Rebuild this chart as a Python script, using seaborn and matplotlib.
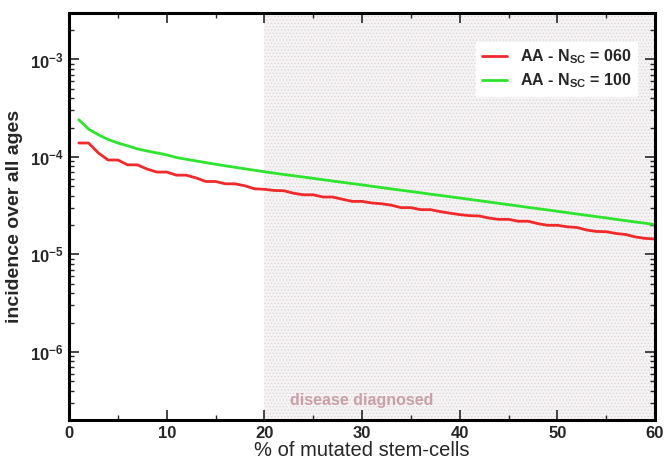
import numpy as np
import pandas as pd
import matplotlib
matplotlib.use("Agg")
import matplotlib.pyplot as plt
from matplotlib.ticker import FixedLocator, FuncFormatter, LogLocator, NullFormatter, MultipleLocator
import seaborn as sns

# % of mutated stem-cells
pct = list(range(1, 61))

# incidence over all ages, N_SC = 060
inc_060 = [
    1.39e-4, 1.39e-4, 1.10e-4, 9.3e-5, 9.3e-5, 8.3e-5, 8.3e-5, 7.5e-5, 7.0e-5, 7.0e-5,
    6.5e-5, 6.5e-5, 6.1e-5, 5.6e-5, 5.6e-5, 5.3e-5, 5.3e-5, 5.06e-5, 4.71e-5, 4.66e-5,
    4.53e-5, 4.50e-5, 4.24e-5, 4.09e-5, 4.09e-5, 3.88e-5, 3.88e-5, 3.68e-5, 3.50e-5, 3.50e-5,
    3.37e-5, 3.31e-5, 3.20e-5, 3.02e-5, 3.02e-5, 2.88e-5, 2.88e-5, 2.75e-5, 2.65e-5, 2.56e-5,
    2.50e-5, 2.48e-5, 2.36e-5, 2.29e-5, 2.29e-5, 2.19e-5, 2.19e-5, 2.07e-5, 1.99e-5, 1.99e-5,
    1.92e-5, 1.89e-5, 1.78e-5, 1.72e-5, 1.71e-5, 1.64e-5, 1.60e-5, 1.51e-5, 1.46e-5, 1.44e-5,
]

# incidence over all ages, N_SC = 100
inc_100 = [
    2.41e-4, 1.93e-4, 1.69e-4, 1.51e-4, 1.39e-4, 1.30e-4, 1.21e-4, 1.15e-4, 1.10e-4, 1.05e-4,
    9.86e-5, 9.47e-5, 9.10e-5, 8.75e-5, 8.42e-5, 8.11e-5, 7.83e-5, 7.56e-5, 7.30e-5, 7.05e-5,
    6.82e-5, 6.61e-5, 6.41e-5, 6.22e-5, 6.03e-5, 5.84e-5, 5.66e-5, 5.49e-5, 5.33e-5, 5.17e-5,
    5.00e-5, 4.85e-5, 4.70e-5, 4.56e-5, 4.42e-5, 4.29e-5, 4.15e-5, 4.03e-5, 3.91e-5, 3.79e-5,
    3.67e-5, 3.56e-5, 3.45e-5, 3.34e-5, 3.24e-5, 3.14e-5, 3.04e-5, 2.95e-5, 2.86e-5, 2.77e-5,
    2.68e-5, 2.60e-5, 2.52e-5, 2.44e-5, 2.37e-5, 2.29e-5, 2.22e-5, 2.15e-5, 2.09e-5, 2.02e-5,
]

series_names = ["AA - N$_{\\mathbf{SC}}$ = 060", "AA - N$_{\\mathbf{SC}}$ = 100"]
series_colors = ["#f02a2a", "#2ee42e"]

diagnosis_threshold = 20
x_ticks = [0, 10, 20, 30, 40, 50, 60]
y_ticks = [1e-6, 1e-5, 1e-4, 1e-3]
annotation = "disease diagnosed"

sns.set_style("ticks")
plt.rcParams["font.family"] = ["Liberation Sans", "DejaVu Sans"]
plt.rcParams["mathtext.fontset"] = "custom"
plt.rcParams["mathtext.rm"] = "Liberation Sans:bold"
plt.rcParams["mathtext.bf"] = "Liberation Sans:bold"
plt.rcParams["mathtext.it"] = "Liberation Sans:bold"
plt.rcParams["hatch.linewidth"] = 0.5
plt.rcParams["hatch.color"] = "#dad4d6"

df = pd.DataFrame({
    "pct": pct * 2,
    "incidence": inc_060 + inc_100,
    "series": [series_names[0]] * len(pct) + [series_names[1]] * len(pct),
})

fig = plt.figure(figsize=(6.65, 4.62), dpi=100)
ax = fig.add_axes([0.1038, 0.0909, 0.8812, 0.8810])

# shaded region where the disease is diagnosed
ax.axvspan(diagnosis_threshold, 60, facecolor="#f5f3f3", edgecolor="#dad4d6",
           hatch=".....", linewidth=0, zorder=0)

sns.lineplot(data=df, x="pct", y="incidence", hue="series",
             palette=dict(zip(series_names, series_colors)),
             linewidth=2.0, ax=ax, zorder=3)

ax.set_yscale("log")
ax.set_xlim(0, 60)
ax.set_ylim(2e-7, 3e-3)

ax.xaxis.set_major_locator(FixedLocator(x_ticks))
ax.xaxis.set_minor_locator(MultipleLocator(5))
ax.yaxis.set_major_locator(FixedLocator(y_ticks))
ax.yaxis.set_minor_locator(LogLocator(base=10, subs=np.arange(2, 10)))
ax.yaxis.set_minor_formatter(NullFormatter())
ax.yaxis.set_major_formatter(FuncFormatter(
    lambda v, _: r"$\mathbf{10^{%d}}$" % int(round(np.log10(v)))))

ax.tick_params(axis="both", which="major", direction="in", length=7, width=1.2,
               top=True, right=True, labelsize=12, pad=4)
ax.tick_params(axis="both", which="minor", direction="in", length=3.8, width=1.0,
               top=True, right=True)
for lbl in ax.get_xticklabels():
    lbl.set_fontweight("bold")

for sp in ax.spines.values():
    sp.set_linewidth(2.2)
    sp.set_color("black")
    sp.set_zorder(5)

ax.set_xlabel("% of mutated stem-cells", fontsize=14.5, labelpad=0)
ax.set_ylabel("incidence over all ages", fontsize=14, fontweight="bold", labelpad=5)

ax.text(22.6, 3.2e-7, annotation, color="#c9a0a8", fontsize=11.5,
        fontweight="bold", va="center", ha="left", zorder=4)

handles, labels = ax.get_legend_handles_labels()
leg = ax.legend(handles, labels, loc="upper right", bbox_to_anchor=(0.969, 0.929),
                borderaxespad=0, frameon=True, fancybox=False, framealpha=1,
                edgecolor="white", facecolor="white", prop={"size": 11.5, "weight": "bold"},
                handlelength=1.6, handletextpad=0.8, borderpad=0.35, labelspacing=0.35)
leg.set_zorder(6)

fig.savefig("out.png", dpi=100, facecolor="white")
